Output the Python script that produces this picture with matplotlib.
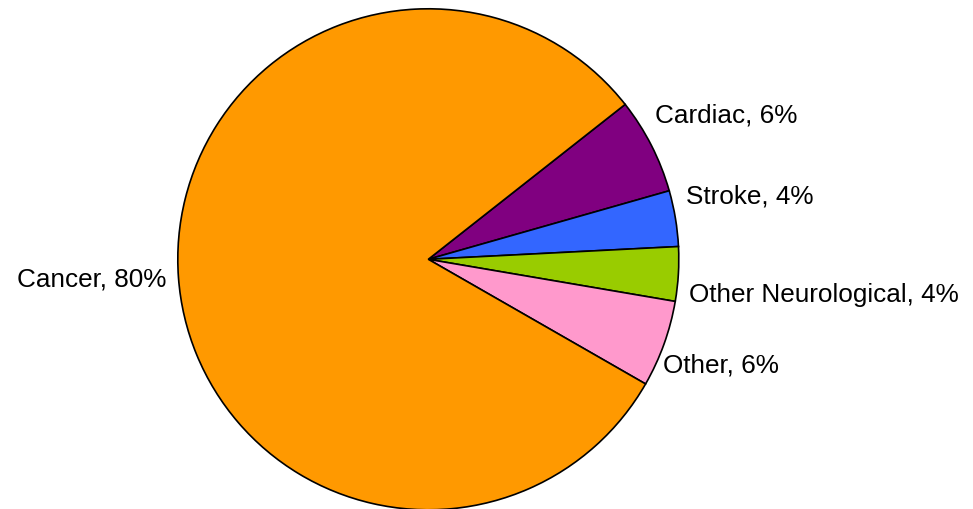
import matplotlib
matplotlib.use("Agg")
import matplotlib.pyplot as plt

# slice shares (clockwise, starting at Cardiac)
causes = ["Cardiac", "Stroke", "Other Neurological", "Other", "Cancer"]
shares = [6.2, 3.6, 3.5, 5.6, 81.1]
label_pct = ["6%", "4%", "4%", "6%", "80%"]
colors = ["#800080", "#3366FF", "#99CC00", "#FF99CC", "#FF9900"]

# label anchor (pixel x, baseline pixel y from top) and alignment
label_pos = [(655, 122), (686, 203), (689, 302), (663, 372), (166, 287)]
label_ha = ["left", "left", "left", "left", "right"]

W, H = 973, 509
fig = plt.figure(figsize=(W / 100, H / 100), dpi=100)
ax = fig.add_axes([0, 0, 1, 1])
ax.set_xlim(0, W)
ax.set_ylim(0, H)
ax.set_aspect("equal")
ax.axis("off")

ax.pie(shares, colors=colors, startangle=38.2, counterclock=False,
       center=(428.3, H - 259.3), radius=250.5,
       wedgeprops={"edgecolor": "black", "linewidth": 1.2})

for name, pct, (x, y), ha in zip(causes, label_pct, label_pos, label_ha):
    ax.text(x, H - y, f"{name}, {pct}", ha=ha, va="baseline",
            fontsize=18.8, family="Liberation Sans", color="black")

ax.set_xlim(0, W)
ax.set_ylim(0, H)
fig.savefig("out.png", dpi=100)
